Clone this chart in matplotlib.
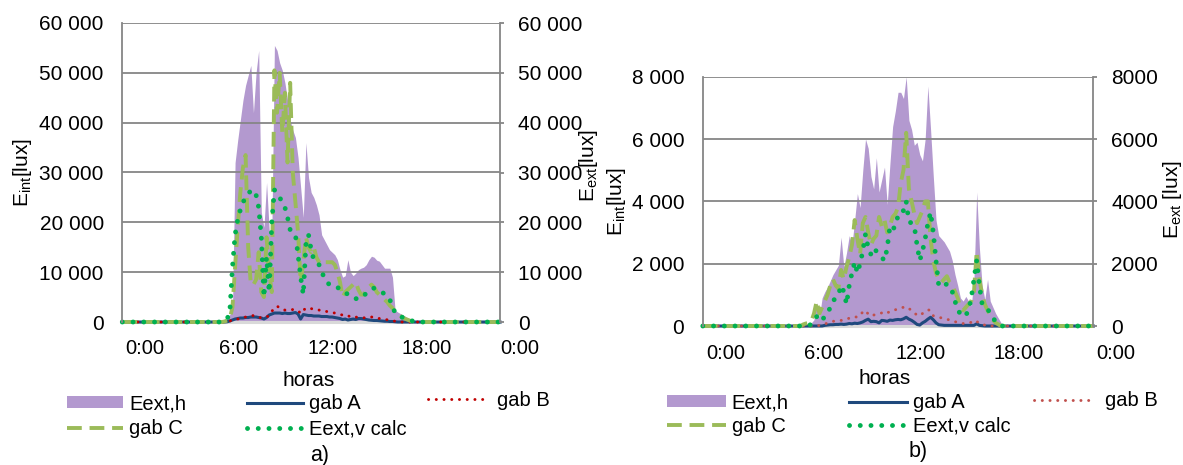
import numpy as np
import matplotlib
matplotlib.use('Agg')
import matplotlib.pyplot as plt
from matplotlib.ticker import FuncFormatter

plt.rcParams['font.family'] = ['Liberation Sans', 'DejaVu Sans']
plt.rcParams['mathtext.fontset'] = 'custom'
plt.rcParams['mathtext.rm'] = 'Liberation Sans'

# ---------------- data ----------------
hour_ticks = [0, 6, 12, 18, 24]
hour_labels = ['0:00', '6:00', '12:00', '18:00', '0:00']
series_names = ['Eext,h', 'gab A', 'gab B', 'gab C', 'Eext,v calc']

# 10-minute samples from 6:00 to 19:00 (night values are 0)
day_hours = np.arange(36, 115) / 6.0

# ---- chart a) ----
Eh_a = [0, 0, 100, 300, 800, 1500,
        2500, 32000, 36500, 40500, 44500, 47500,
        49500, 51500, 42000, 50000, 54500, 22000,
        19000, 28000, 18500, 17500, 55500, 54500,
        52000, 50500, 48000, 44500, 40500, 38500,
        37000, 33000, 27000, 21000, 36000, 29000,
        26000, 25000, 23500, 21500, 17500, 16500,
        15500, 14500, 14000, 13500, 12500, 10500,
        9000, 9300, 12500, 10000, 9300, 9800,
        10500, 10800, 11000, 11500, 12500, 13200,
        13000, 12400, 12200, 11500, 10800, 10800,
        10800, 9000, 2400, 2000, 1700, 1400,
        1100, 800, 500, 250, 100, 0,
        0]
gA_a = [0, 0, 0, 0, 50, 200,
        400, 600, 700, 800, 800, 900,
        900, 1000, 1000, 1000, 900, 800,
        600, 900, 1400, 1600, 1800, 1800,
        1800, 1700, 1800, 1700, 1700, 1800,
        1900, 1600, 600, 1500, 1400, 1300,
        1300, 1200, 1200, 1200, 1100, 1100,
        1100, 1000, 1000, 900, 800, 700,
        500, 600, 400, 500, 600, 500,
        700, 700, 600, 500, 400, 350,
        300, 300, 250, 200, 150, 150,
        100, 100, 50, 0, 0, 0,
        0, 0, 0, 0, 0, 0,
        0]
gB_a = [0, 0, 0, 0, 50, 200,
        400, 500, 600, 700, 800, 1000,
        1100, 1200, 1300, 1300, 1000, 800,
        900, 1000, 1300, 2200, 2600, 3200,
        2800, 2500, 2400, 2400, 2400, 2500,
        2500, 2300, 1700, 2400, 2700, 2900,
        2700, 2500, 2500, 2400, 2200, 2200,
        2100, 2000, 1900, 1800, 1600, 1500,
        1400, 1200, 1300, 1000, 1100, 1000,
        900, 900, 850, 800, 900, 1000,
        1000, 800, 700, 600, 500, 450,
        350, 250, 150, 80, 0, 0,
        0, 0, 0, 0, 0, 0,
        0]
gC_a = [0, 0, 0, 100, 300, 700,
        3000, 11000, 19000, 26000, 31000, 33500,
        15000, 7500, 7500, 8500, 14000, 6000,
        5000, 17000, 10000, 6000, 50500, 42000,
        50000, 38000, 46000, 32000, 48000, 30000,
        24000, 18000, 8000, 12000, 17000, 15000,
        14000, 15000, 13000, 12000, 11500, 12000,
        12000, 12000, 12000, 11500, 10000, 8000,
        5000, 6000, 6500, 7000, 7500, 8000,
        6500, 5500, 5500, 6500, 7000, 7500,
        7000, 6000, 5500, 5000, 4500, 4000,
        3300, 2800, 2000, 1500, 1200, 900,
        600, 400, 200, 100, 50, 0,
        0]
Ev_a = [0, 0, 50, 200, 600, 2200,
        11000, 17500, 20500, 22500, 24000, 25000,
        25800, 26300, 26500, 25500, 23000, 17000,
        5000, 13000, 6000, 20000, 26500, 26000,
        25000, 24000, 23000, 21000, 18500, 18000,
        17500, 13500, 9000, 5500, 15500, 17500,
        14500, 12500, 12200, 11500, 10200, 8800,
        8000, 7500, 7200, 7200, 7000, 6500,
        6000, 5800, 5600, 5500, 5000, 4700,
        4600, 4800, 5200, 5800, 6300, 6600,
        6800, 6500, 6200, 6000, 5600, 5300,
        4500, 3000, 1900, 1300, 1100, 900,
        700, 500, 300, 150, 50, 0,
        0]

# ---- chart b) ----
Eh_b = [0, 0, 20, 50, 100, 200,
        750, 300, 900, 1100, 1250, 1450,
        1650, 1800, 1950, 2850, 1900, 2350,
        2900, 2600, 3400, 4250, 3800, 5000,
        6000, 5700, 4800, 4400, 5400, 4300,
        4700, 5100, 3900, 5200, 6400, 6900,
        7500, 7500, 7300, 8000, 6600, 6300,
        5800, 5900, 5500, 5300, 6000, 7700,
        6300, 4800, 3400, 2900, 2800, 2700,
        2550, 2400, 2100, 1650, 1300, 900,
        800, 950, 800, 650, 1500, 4300,
        2500, 1300, 850, 1500, 800, 600,
        400, 250, 100, 0, 0, 0,
        0]
gA_b = [0, 0, 0, 0, 0, 0,
        0, 0, 0, 20, 30, 40,
        40, 50, 50, 60, 50, 60,
        80, 70, 90, 80, 100, 130,
        180, 220, 140, 150, 140, 100,
        180, 170, 150, 190, 180, 200,
        210, 200, 230, 280, 220, 180,
        120, 50, 30, 100, 150, 220,
        280, 200, 100, 40, 30, 20,
        20, 20, 20, 20, 20, 20,
        20, 20, 20, 20, 20, 70,
        20, 10, 0, 0, 0, 0,
        0, 0, 0, 0, 0, 0,
        0]
gB_b = [0, 0, 0, 0, 0, 0,
        0, 20, 40, 60, 100, 130,
        150, 160, 170, 180, 190, 220,
        250, 270, 300, 280, 350, 450,
        500, 380, 320, 350, 380, 400,
        420, 470, 430, 450, 500, 520,
        560, 580, 600, 620, 560, 500,
        420, 350, 330, 400, 460, 520,
        500, 330, 300, 280, 260, 240,
        220, 190, 160, 140, 110, 90,
        80, 80, 90, 120, 180, 150,
        80, 50, 30, 20, 0, 0,
        0, 0, 0, 0, 0, 0,
        0]
gC_b = [0, 50, 80, 100, 150, 400,
        800, 400, 600, 800, 1000, 1300,
        1500, 1300, 1200, 1800, 1500, 1900,
        2200, 2600, 3400, 2800, 2300, 3300,
        3500, 3000, 2600, 2800, 2900, 3500,
        3200, 3400, 3000, 3200, 3500, 3600,
        3800, 4600, 5000, 6200, 4400, 4000,
        3600, 3300, 3500, 3700, 4000, 4000,
        2800, 2100, 1700, 1500, 1400, 1500,
        1600, 1400, 1300, 1100, 900, 600,
        500, 600, 700, 800, 1100, 2400,
        1500, 1000, 700, 500, 350, 200,
        100, 50, 0, 0, 0, 0,
        0]
Ev_b = [0, 0, 0, 20, 50, 150,
        300, 150, 200, 300, 400, 600,
        800, 900, 1000, 1300, 1100, 700,
        1300, 1700, 2050, 1700, 2000, 2400,
        2950, 2500, 2300, 2500, 2400, 2300,
        2200, 2100, 2500, 3200, 3100, 3200,
        3550, 3700, 3700, 4000, 3350, 3300,
        3200, 2600, 2100, 2400, 2800, 3300,
        3650, 3000, 2100, 1300, 1250, 1300,
        1350, 1250, 1100, 800, 500, 400,
        300, 350, 500, 900, 1500, 2100,
        1300, 700, 600, 550, 400, 250,
        150, 80, 0, 0, 0, 0,
        0]

# ---------------- drawing ----------------
W, H = 1183, 465
fig = plt.figure(figsize=(W / 100, H / 100), dpi=100)

PURPLE = '#B399CF'
BLUE = '#1F497D'
OLIVE = '#9BBB59'
GREEN = '#00B050'
GRID = '#868686'

t = np.concatenate([[0.0], day_hours, [24.0]])


def full(v):
    return np.concatenate([[0.0], np.asarray(v, float), [0.0]])


def frac_rect(x0, y_top, x1, y_bot):
    return [x0 / W, 1 - y_bot / H, (x1 - x0) / W, (y_bot - y_top) / H]


def sp(v):
    return f'{int(round(v)):,}'.replace(',', ' ')


def draw(plot_px, lab_px, ymax, ystep, right_fmt, series, red, leg, texts, handlelen, rowsp):
    Eh, gA, gB, gC, Ev = series
    ax = fig.add_axes(frac_rect(*plot_px))
    ax.set_xlim(0, 24)
    ax.set_ylim(0, ymax)
    ax.set_axisbelow('line')
    area = ax.fill_between(t, 0, full(Eh), color=PURPLE, lw=0, zorder=1)
    la, = ax.plot(t, full(gA), color=BLUE, lw=2.2, zorder=2, clip_on=False,
                  solid_joinstyle='round')
    lb, = ax.plot(t, full(gB), color=red, lw=2.1, ls=(0, (0.05, 2.6)),
                  dash_capstyle='round', zorder=2.1, clip_on=False)
    lc, = ax.plot(t, full(gC), color=OLIVE, lw=2.8, ls=(0, (3.8, 2.0)),
                  dash_capstyle='butt', zorder=2.2, clip_on=False)
    lv, = ax.plot(t, full(Ev), color=GREEN, lw=3.5, ls=(0, (0.01, 2.2)),
                  dash_capstyle='round', zorder=2.3, clip_on=False)
    ticks = np.arange(0, ymax + 1, ystep)
    ax.set_yticks(ticks)
    ax.yaxis.set_major_formatter(FuncFormatter(lambda v, p: sp(v)))
    ax.tick_params(axis='y', length=0, pad=13.3, labelsize=15)
    ax.set_xticks([])
    ax.yaxis.grid(True, color=GRID, lw=1.3)
    for s in ('top', 'right'):
        ax.spines[s].set_visible(False)
    ax.spines['left'].set_color(GRID)
    ax.spines['left'].set_linewidth(1.3)
    ax.spines['bottom'].set_color('#D9D9D9')
    ax.spines['bottom'].set_linewidth(2.2)
    ax.spines['bottom'].set_zorder(1.6)

    ax2 = ax.twinx()
    ax2.set_ylim(0, ymax)
    ax2.set_yticks(ticks)
    ax2.yaxis.set_major_formatter(FuncFormatter(right_fmt))
    ax2.tick_params(axis='y', direction='out', length=3, width=1.3, color=GRID,
                    pad=10, labelsize=15)
    for s in ('top', 'left', 'bottom'):
        ax2.spines[s].set_visible(False)
    ax2.spines['right'].set_color(GRID)
    ax2.spines['right'].set_linewidth(1.3)

    # hour labels
    x0, x1, ylab = lab_px
    axl = fig.add_axes([x0 / W, 1 - ylab / H, (x1 - x0) / W, 0.0001])
    axl.set_xlim(0, 24)
    axl.set_xticks(hour_ticks)
    axl.set_xticklabels(hour_labels, fontsize=14.5)
    for lab in axl.get_xticklabels():
        lab.set_va('center')
    axl.tick_params(axis='x', length=0, pad=0)
    axl.set_yticks([])
    axl.patch.set_visible(False)
    for s in axl.spines.values():
        s.set_visible(False)

    # legend, three columns
    (c1, c2, c3, yc, y1) = leg
    common = dict(frameon=False, borderpad=0, borderaxespad=0, fontsize=14.5,
                  handlelength=handlelen, handleheight=0.52, labelspacing=rowsp)
    fig.legend([area, lc], [series_names[0], series_names[3]], loc='center left',
               bbox_to_anchor=(c1 / W, 1 - yc / H), handletextpad=0.3, **common)
    fig.legend([la, lv], [series_names[1], series_names[4]], loc='center left',
               bbox_to_anchor=(c2 / W, 1 - yc / H), handletextpad=0.3, **common)
    fig.legend([lb], [series_names[2]], loc='center left',
               bbox_to_anchor=(c3 / W, 1 - y1 / H), handletextpad=0.65, **common)

    for (x, y, s, rot, size) in texts:
        fig.text(x / W, 1 - y / H, s, rotation=rot, ha='center', va='center',
                 fontsize=size)


draw((122.3, 23, 500, 322), (145.1, 520.2, 348), 60000, 10000,
     lambda v, p: sp(v), (Eh_a, gA_a, gB_a, gC_a, Ev_a), '#C00000',
     (66.7, 246.7, 428, 416.3, 400.5),
     [(22, 173, r'$\mathregular{E_{int}}$[lux]', 90, 15),
      (588.5, 166, r'$\mathregular{E_{ext}}$[lux]', 90, 15),
      (308.3, 380, 'horas', 0, 15),
      (320, 455, 'a)', 0, 15.5)],
     2.8, 0.28)

draw((702.8, 76.7, 1093.3, 326), (726.2, 1115.6, 353), 8000, 2000,
     lambda v, p: f'{int(round(v))}', (Eh_b, gA_b, gB_b, gC_b, Ev_b), '#C0504D',
     (667.2, 849, 1034, 414.5, 400.7),
     [(616, 202, r'$\mathregular{E_{int}}$[lux]', 90, 15),
      (1172, 200, r'$\mathregular{E_{ext}}$ [lux]', 90, 15),
      (884.6, 378, 'horas', 0, 15),
      (918.6, 451.5, 'b)', 0, 15.5)],
     2.9, 0.2)

fig.savefig('out.png', dpi=100)
